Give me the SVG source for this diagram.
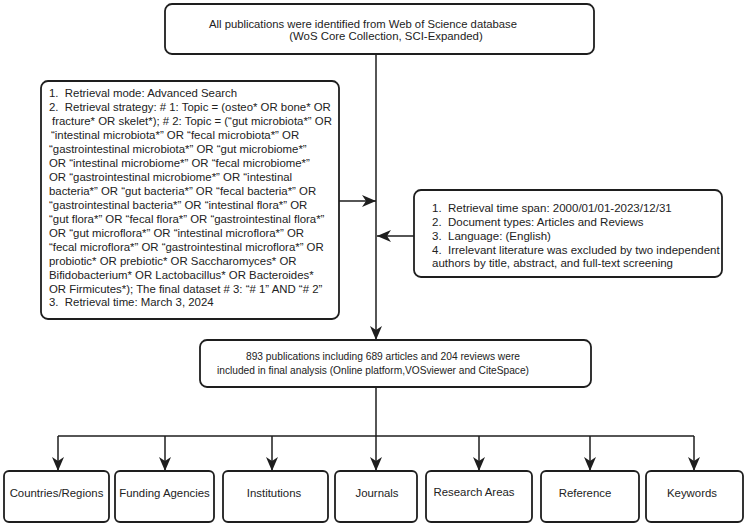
<svg xmlns="http://www.w3.org/2000/svg" width="748" height="526" viewBox="0 0 748 526" xml:space="preserve">
<defs>
<marker id="ah" markerUnits="userSpaceOnUse" markerWidth="15" markerHeight="13" refX="14" refY="6.5" orient="auto">
<path d="M0,0.5 L14,6.5 L0,12.5 L4,6.5 Z" fill="#1e1e1e"/>
</marker>
<style>
.box{fill:#fff;stroke:#1e1e1e;stroke-width:1.8}
.ln{fill:none;stroke:#1e1e1e;stroke-width:1.5}
text{font-family:"Liberation Sans",Arial,sans-serif;font-size:11.4px;fill:#222;white-space:pre}
.c{text-anchor:middle}
.r{font-size:11.5px}
.f{font-size:11px}
</style>
</defs>
<rect width="748" height="526" fill="#fff"/>
<g id="connectors">
<line class="ln" x1="376" y1="54" x2="376" y2="340" marker-end="url(#ah)"/>
<line class="ln" x1="339" y1="201" x2="376" y2="201" marker-end="url(#ah)"/>
<line class="ln" x1="414" y1="236" x2="377" y2="236" marker-end="url(#ah)"/>
<line class="ln" x1="376" y1="387" x2="376" y2="436"/>
<line class="ln" x1="58" y1="436" x2="694" y2="436"/>
<line class="ln" x1="58" y1="436" x2="58" y2="471" marker-end="url(#ah)"/>
<line class="ln" x1="165" y1="436" x2="165" y2="471" marker-end="url(#ah)"/>
<line class="ln" x1="272" y1="436" x2="272" y2="471" marker-end="url(#ah)"/>
<line class="ln" x1="376" y1="436" x2="376" y2="471" marker-end="url(#ah)"/>
<line class="ln" x1="479" y1="436" x2="479" y2="471" marker-end="url(#ah)"/>
<line class="ln" x1="590" y1="436" x2="590" y2="471" marker-end="url(#ah)"/>
<line class="ln" x1="694" y1="436" x2="694" y2="471" marker-end="url(#ah)"/>
</g>
<g id="source">
<rect class="box" x="165" y="4" width="429" height="50" rx="7"/>
<text class="c" x="363" y="28" textLength="308" lengthAdjust="spacingAndGlyphs">All publications were identified from Web of Science database</text>
<text class="c" x="386" y="40">(WoS Core Collection, SCI-Expanded)</text>
</g>
<g id="search-strategy">
<rect class="box" x="41" y="81" width="298" height="238" rx="7"/>
<text x="49" y="97">1.  Retrieval mode: Advanced Search</text>
<text x="49" y="111">2.  Retrieval strategy: # 1: Topic = (osteo* OR bone* OR</text>
<text x="52" y="125">fracture* OR skelet*); # 2: Topic = (“gut microbiota*” OR</text>
<text x="51" y="139">“intestinal microbiota*” OR “fecal microbiota*” OR</text>
<text x="49" y="153">“gastrointestinal microbiota*” OR “gut microbiome*”</text>
<text x="49" y="167">OR “intestinal microbiome*” OR “fecal microbiome*”</text>
<text x="49" y="181">OR “gastrointestinal microbiome*” OR “intestinal</text>
<text x="49" y="195">bacteria*” OR “gut bacteria*” OR “fecal bacteria*” OR</text>
<text x="49" y="209">“gastrointestinal bacteria*” OR “intestinal flora*” OR</text>
<text x="49" y="223">“gut flora*” OR “fecal flora*” OR “gastrointestinal flora*”</text>
<text x="49" y="236.5">OR “gut microflora*” OR “intestinal microflora*” OR</text>
<text x="49" y="250.5">“fecal microflora*” OR “gastrointestinal microflora*” OR</text>
<text x="49" y="264.5">probiotic* OR prebiotic* OR Saccharomyces* OR</text>
<text x="49" y="278.5">Bifidobacterium* OR Lactobacillus* OR Bacteroides*</text>
<text x="49" y="292.5">OR Firmicutes*); The final dataset # 3: “# 1” AND “# 2”</text>
<text x="49" y="306">3.  Retrieval time: March 3, 2024</text>
</g>
<g id="criteria">
<rect class="box" x="414" y="190" width="308" height="87" rx="7"/>
<text class="r" x="432" y="212">1.  Retrieval time span: 2000/01/01-2023/12/31</text>
<text class="r" x="432" y="226">2.  Document types: Articles and Reviews</text>
<text class="r" x="432" y="240">3.  Language: (English)</text>
<text class="r" x="432" y="253.5">4.  Irrelevant literature was excluded by two independent</text>
<text class="r" x="432" y="267">authors by title, abstract, and full-text screening</text>
</g>
<g id="final">
<rect class="box" x="200" y="340" width="391" height="47" rx="7"/>
<text class="c f" x="383" y="360" textLength="274" lengthAdjust="spacingAndGlyphs">893 publications including 689 articles and 204 reviews were</text>
<text class="c f" x="373" y="374" textLength="312" lengthAdjust="spacingAndGlyphs">included in final analysis (Online platform,VOSviewer and CiteSpace)</text>
</g>
<g id="countries">
<rect class="box" x="4" y="471" width="105" height="51" rx="5"/>
<text class="c" x="56.5" y="497">Countries/Regions</text>
</g>
<g id="funding">
<rect class="box" x="115" y="471" width="99" height="51" rx="5"/>
<text class="c" x="164.5" y="497">Funding Agencies</text>
</g>
<g id="institutions">
<rect class="box" x="223" y="471" width="105" height="51" rx="5"/>
<text class="c" x="274" y="497">Institutions</text>
</g>
<g id="journals">
<rect class="box" x="335" y="471" width="82" height="51" rx="5"/>
<text class="c" x="377" y="497">Journals</text>
</g>
<g id="research-areas">
<rect class="box" x="426" y="471" width="106" height="51" rx="5"/>
<text class="c" x="474" y="496">Research Areas</text>
</g>
<g id="reference">
<rect class="box" x="541" y="471" width="98" height="51" rx="5"/>
<text class="c" x="585" y="497">Reference</text>
</g>
<g id="keywords">
<rect class="box" x="646" y="471" width="97" height="51" rx="5"/>
<text class="c" x="692" y="497">Keywords</text>
</g>
</svg>
